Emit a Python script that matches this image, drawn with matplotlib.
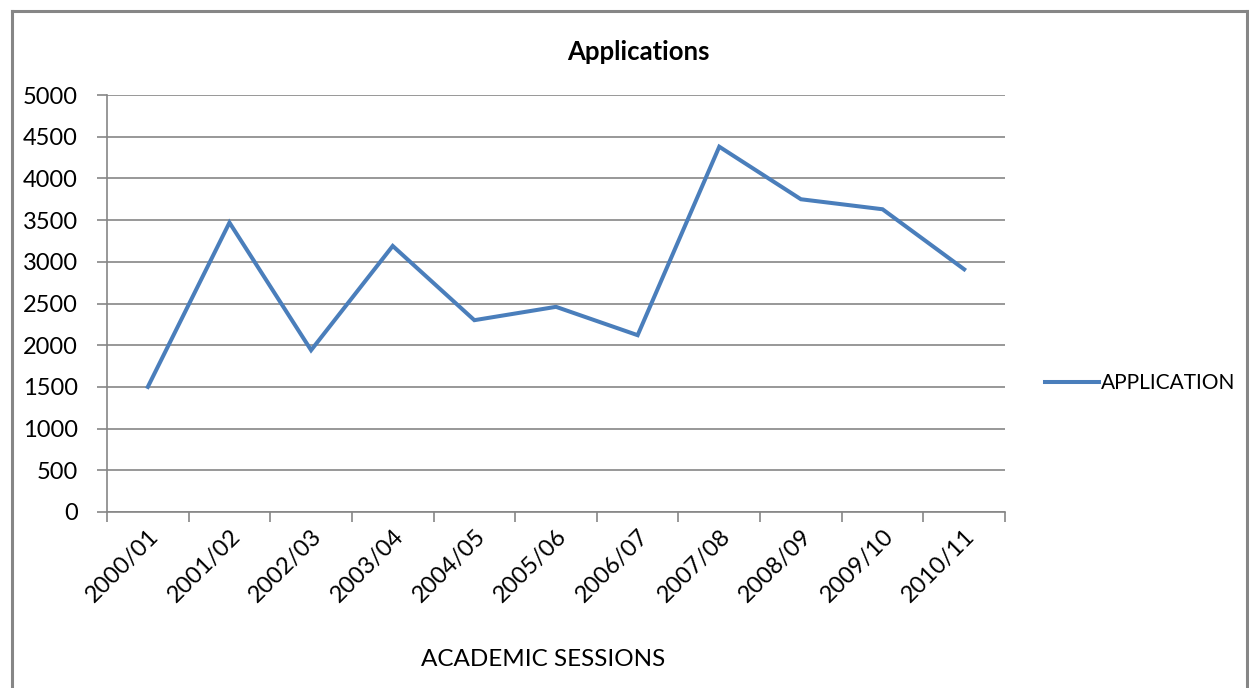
import numpy as np
import matplotlib
matplotlib.use("Agg")
import matplotlib.pyplot as plt
from matplotlib.lines import Line2D

sessions = ["2000/01", "2001/02", "2002/03", "2003/04", "2004/05", "2005/06",
            "2006/07", "2007/08", "2008/09", "2009/10", "2010/11"]
applications = [1500, 3470, 1940, 3190, 2300, 2460, 2120, 4380, 3750, 3630, 2910]
y_ticks = [0, 500, 1000, 1500, 2000, 2500, 3000, 3500, 4000, 4500, 5000]

plt.rcParams['font.family'] = ['Lato', 'DejaVu Sans']
W, H = 1249, 688
fig = plt.figure(figsize=(W / 100, H / 100), dpi=100)

# outer chart border
grey = '#868686'
fig.add_artist(Line2D([12 / W, 12 / W], [0, 1 - 11 / H], color=grey, lw=2.2))
fig.add_artist(Line2D([12 / W, 1247 / W], [1 - 11 / H, 1 - 11 / H], color=grey, lw=2.2))
fig.add_artist(Line2D([1247 / W, 1247 / W], [0, 1 - 11 / H], color=grey, lw=2.2))

ax = fig.add_axes([107 / W, 1 - 512 / H, (1005 - 107) / W, (512 - 95) / H])

x = np.arange(len(sessions))
ax.plot(x, applications, color='#4a7ebb', lw=2.9, label='APPLICATION',
        solid_joinstyle='miter')

ax.set_xlim(-0.5, len(sessions) - 0.5)
ax.set_ylim(0, 5000)
ax.set_yticks(y_ticks)
ax.set_yticklabels([str(v) for v in y_ticks], fontsize=17)
ax.yaxis.grid(True, color=grey, lw=1.2)
ax.set_axisbelow(True)

ax.set_xticks(x)
ax.set_xticklabels(sessions, fontsize=17, rotation=45, ha='right',
                   rotation_mode='anchor')
ax.set_xticks(np.arange(len(sessions) + 1) - 0.5, minor=True)
ax.tick_params(axis='x', which='major', length=0, pad=10)
ax.tick_params(axis='x', which='minor', length=7, color=grey, width=1.2)
ax.tick_params(axis='y', length=7, color=grey, width=1.2, pad=14)

for s in ['top', 'right']:
    ax.spines[s].set_visible(False)
for s in ['left', 'bottom']:
    ax.spines[s].set_color(grey)
    ax.spines[s].set_linewidth(1.2)

fig.text(638 / W, 1 - 52 / H, 'Applications', fontsize=18.5, fontweight='bold',
         ha='center', va='center')
fig.text(543 / W, 1 - 660 / H, 'ACADEMIC SESSIONS', fontsize=17.5,
         ha='center', va='center')

fig.legend(loc='center left', bbox_to_anchor=(1045 / W, 1 - 383 / H),
           frameon=False, fontsize=15, handlelength=2.6, handletextpad=0.1,
           borderpad=0, borderaxespad=0)

fig.savefig('out.png', dpi=100)
